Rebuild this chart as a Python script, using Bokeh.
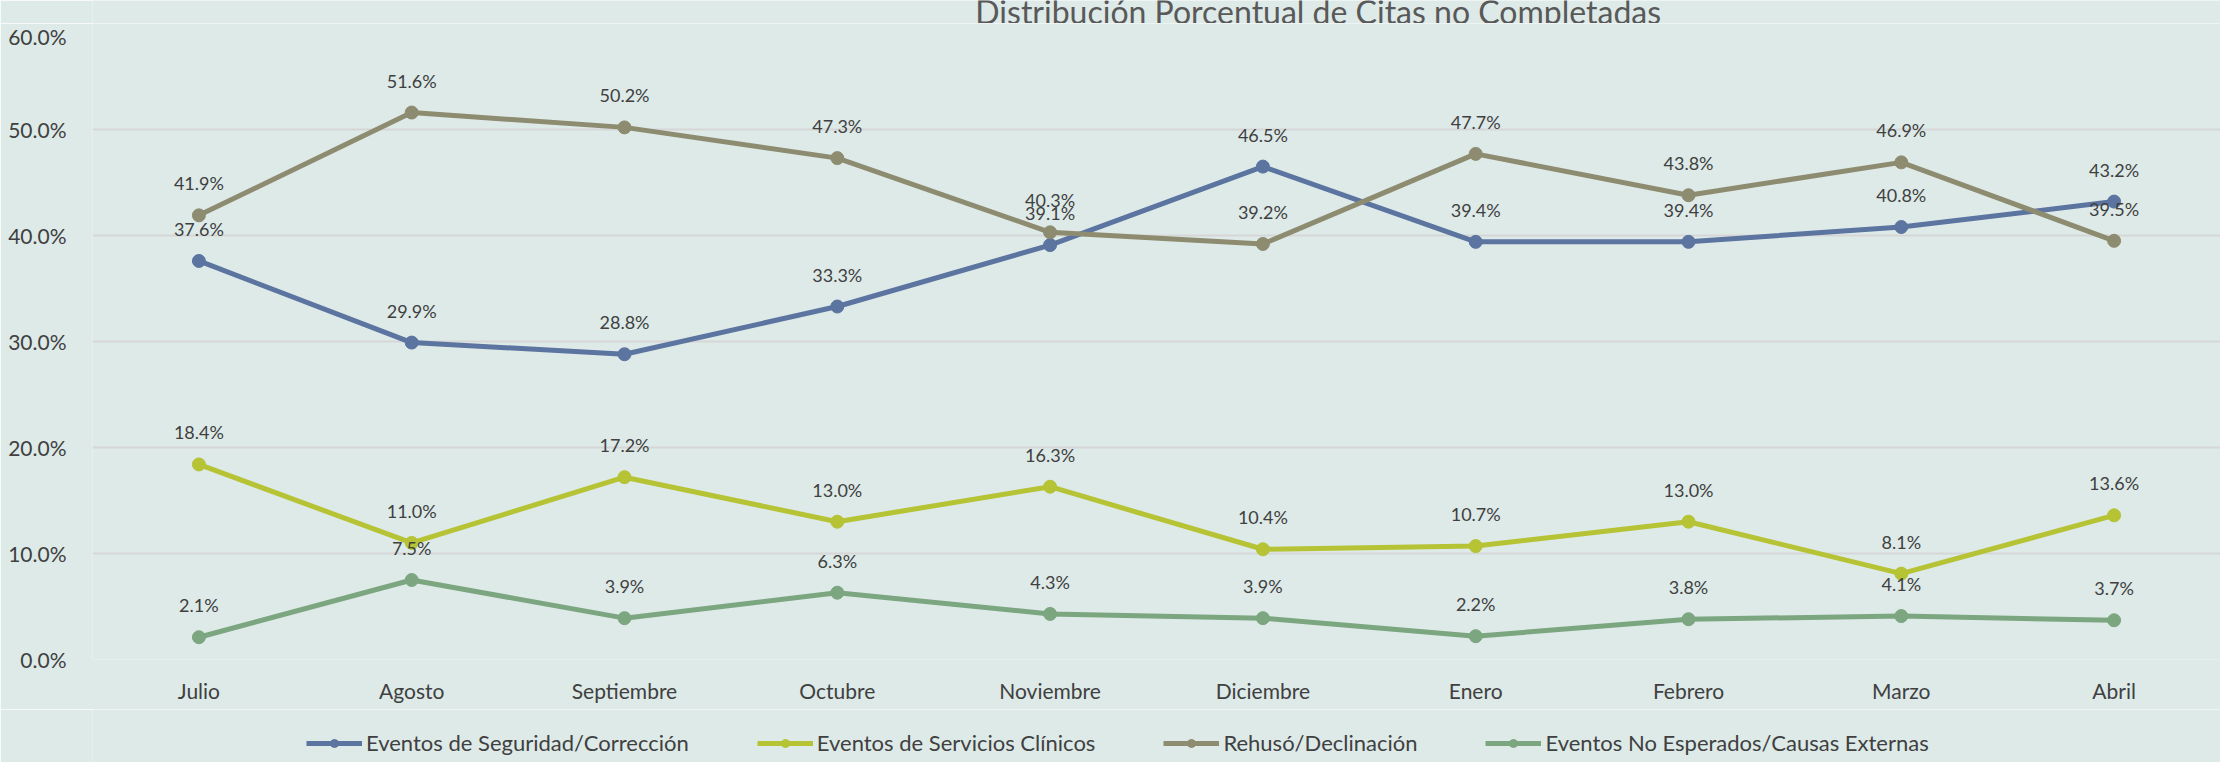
from bokeh.plotting import figure
from bokeh.layouts import column
from bokeh.models import (ColumnDataSource, FactorRange, Range1d, PrintfTickFormatter,
                          Legend, LegendItem, Label, FixedTicker)
from bokeh.core.properties import value
from bokeh.embed import file_html
from bokeh.resources import INLINE

months = ["Julio", "Agosto", "Septiembre", "Octubre", "Noviembre", "Diciembre",
          "Enero", "Febrero", "Marzo", "Abril"]
seguridad = [37.6, 29.9, 28.8, 33.3, 39.1, 46.5, 39.4, 39.4, 40.8, 43.2]
clinicos = [18.4, 11.0, 17.2, 13.0, 16.3, 10.4, 10.7, 13.0, 8.1, 13.6]
rehuso = [41.9, 51.6, 50.2, 47.3, 40.3, 39.2, 47.7, 43.8, 46.9, 39.5]
no_esperados = [2.1, 7.5, 3.9, 6.3, 4.3, 3.9, 2.2, 3.8, 4.1, 3.7]
series_names = ["Eventos de Seguridad/Corrección", "Eventos de Servicios Clínicos",
                "Rehusó/Declinación", "Eventos No Esperados/Causas Externas"]
series_values = [seguridad, clinicos, rehuso, no_esperados]
colors = ["#5B74A0", "#B5C334", "#8E8C70", "#7BA67F"]
title_text = "Distribución Porcentual de Citas no Completadas"

FONT = "Lato"
BG = "#DDEAE8"
TXT = "#404040"


def strip(height, xr):
    f = figure(width=2220, height=height, x_range=xr, y_range=Range1d(0, 1),
               output_backend="svg", toolbar_location=None, x_axis_location=None,
               y_axis_location=None, background_fill_color=BG, border_fill_color=BG,
               outline_line_color=None, min_border=0, min_border_left=0,
               min_border_right=0, min_border_top=0, min_border_bottom=0)
    f.xgrid.grid_line_color = None
    f.ygrid.grid_line_color = None
    return f


# title strip (title is partly cut off at the top, as in the original)
tp = strip(23, Range1d(0, 10))
tp.add_layout(Label(x=5.76, y=12, y_units="screen", text=title_text, text_font=FONT,
                    text_font_size="32px", text_color="#595959", text_align="center",
                    text_baseline="alphabetic"))

p = figure(width=2220, height=686, x_range=FactorRange(*months, range_padding=0),
           y_range=Range1d(0, 60), output_backend="svg", toolbar_location=None,
           background_fill_color=BG, border_fill_color=BG, outline_line_color=None,
           min_border_left=92, min_border_right=0, min_border_top=0, min_border_bottom=50)

p.xgrid.grid_line_color = None
p.ygrid.grid_line_color = "#D6D6D6"
p.ygrid.grid_line_width = 2
p.yaxis.ticker = FixedTicker(ticks=[0, 10, 20, 30, 40, 50, 60])
p.yaxis.formatter = PrintfTickFormatter(format="%.1f%%")
for ax in (p.xaxis[0], p.yaxis[0]):
    ax.axis_line_color = None
    ax.major_tick_line_color = None
    ax.minor_tick_line_color = None
    ax.major_label_text_font = FONT
    ax.major_label_text_font_size = "21px"
    ax.major_label_text_color = TXT
p.xaxis.major_label_standoff = 12
p.yaxis.major_label_standoff = 20

for name, vals, col in zip(series_names, series_values, colors):
    src = ColumnDataSource(dict(x=months, y=vals, lab=[f"{v:.1f}%" for v in vals]))
    p.line("x", "y", source=src, line_color=col, line_width=5)
    p.scatter("x", "y", source=src, size=13, fill_color=col, line_color=col)
    p.text("x", "y", text="lab", source=src, text_font=value(FONT), text_font_size="18px",
           text_color=TXT, text_align="center", text_baseline="middle", y_offset=-32)

# legend strip below the chart
lg = strip(53, Range1d(0, 1))
items = []
for name, col in zip(series_names, colors):
    r1 = lg.line([-5, -4], [-5, -4], line_color=col, line_width=5)
    r2 = lg.scatter([-5], [-5], size=13, fill_color=col, line_color=col)
    items.append(LegendItem(label=name, renderers=[r1, r2]))
legend = Legend(items=items, orientation="horizontal", location=(214, 6),
                background_fill_alpha=0, border_line_color=None,
                label_text_font=FONT, label_text_font_size="22px", label_text_color=TXT,
                glyph_width=56, spacing=68, label_standoff=4, margin=0, padding=2)
lg.add_layout(legend, "center")

layout = column(tp, p, lg, spacing=0)
open("out.html", "w").write(file_html(layout, INLINE))
